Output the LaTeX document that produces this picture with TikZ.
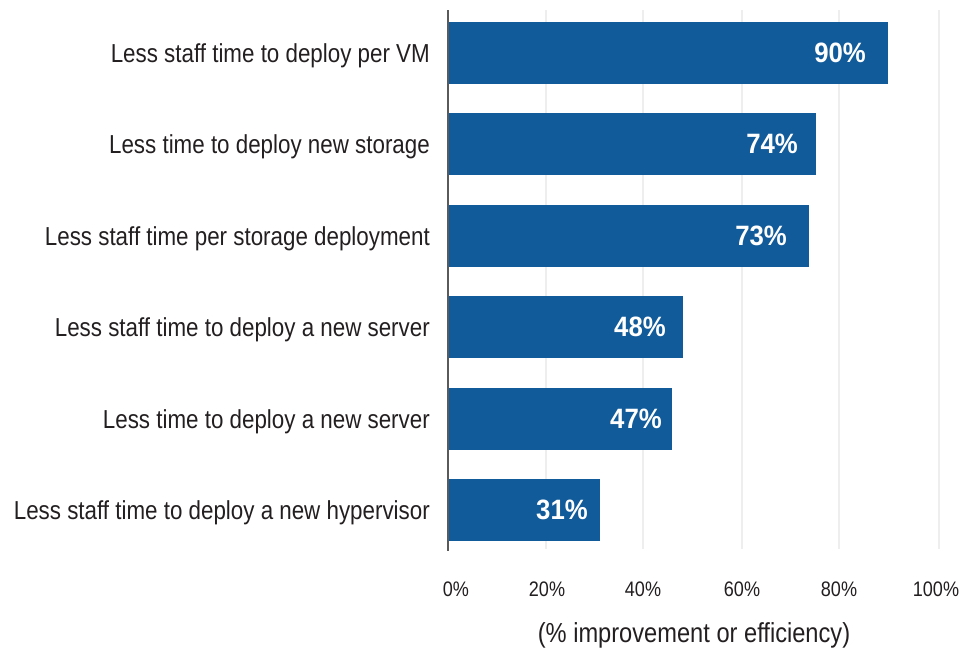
\documentclass[tikz,border=0pt]{standalone}
\usepackage{fontspec}
\setmainfont{Liberation Sans}[FakeStretch=0.86]
\newfontfamily\valfont{Liberation Sans}[FakeStretch=0.92]
\definecolor{barblue}{RGB}{17,91,154}
\definecolor{txt}{RGB}{35,31,32}
\definecolor{grid}{RGB}{238,238,238}
\definecolor{axisc}{RGB}{90,90,90}
\tikzset{
  cat/.style={anchor=base east, text=txt, font=\fontsize{26}{30}\selectfont, inner sep=0pt},
  val/.style={anchor=base east, text=white, font=\valfont\bfseries\fontsize{28}{32}\selectfont, inner sep=0pt},
  tick/.style={anchor=base, text=txt, font=\fontsize{21}{24}\selectfont, inner sep=0pt},
  bar/.style={fill=barblue},
  gridline/.style={draw=grid, line width=1.2pt},
}
\begin{document}
\begin{tikzpicture}[x=1pt,y=-1pt]
\useasboundingbox (0,0) rectangle (969,649);
% gridlines
\foreach \gx in {546,643,742,839,939}{
  \draw[gridline] (\gx,10) -- (\gx,549);
}
% bars: top, end, value, label right, text
\foreach \i/\t/\e/\v/\r/\c in {
  1/22/888/90/866/Less staff time to deploy per VM,
  2/113/816/74/798/Less time to deploy new storage,
  3/205/809/73/787/Less staff time per storage deployment,
  4/296/683/48/666/Less staff time to deploy a new server,
  5/388/672/47/662/Less time to deploy a new server,
  6/479/600/31/588/Less staff time to deploy a new hypervisor}{
  \fill[bar] (448,\t) rectangle (\e,\t+62);
  \node[val] (v\i) at (\r,\t+40) {\v\%};
  \node[cat] (c\i) at (430,\t+40) {\c};
}
% axis
\draw[axisc, line width=1.3pt] (448,10) -- (448,551);
% tick labels
\node[tick] (t0) at (456,596) {0\%};
\node[tick] (t20) at (547,596) {20\%};
\node[tick] (t40) at (643,596) {40\%};
\node[tick] (t60) at (742,596) {60\%};
\node[tick] (t80) at (839,596) {80\%};
\node[tick] (t100) at (936,596) {100\%};
\node[cat, anchor=base, font=\fontsize{27.5}{32}\selectfont] (xt) at (694,642) {(\% improvement or efficiency)};
\end{tikzpicture}
\end{document}
